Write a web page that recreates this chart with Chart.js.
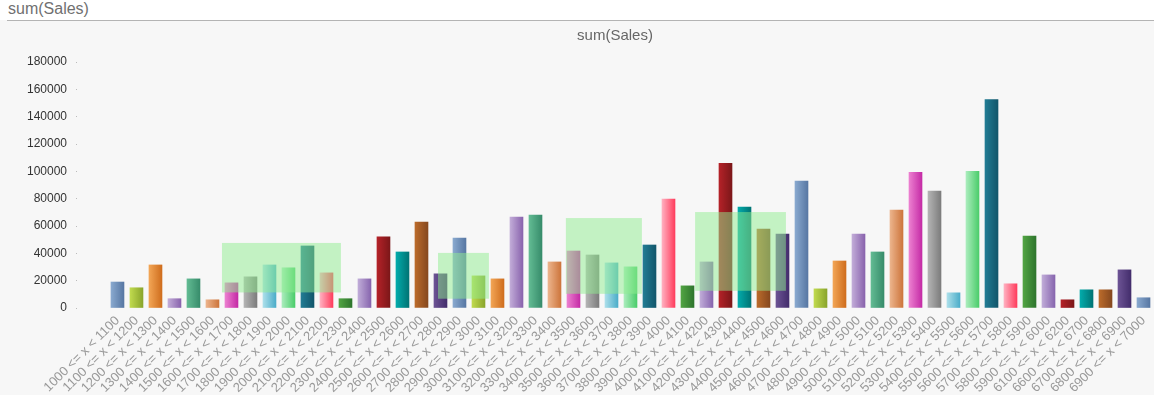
<!DOCTYPE html>
<html>
<head>
<meta charset="utf-8">
<script src="https://cdn.jsdelivr.net/npm/chart.js@4/dist/chart.umd.min.js"></script>
<style>
  html, body { margin: 0; padding: 0; background: #f7f7f7; }
  #header {
    position: absolute; left: 0; top: 0; width: 1154px; height: 20px;
    background: #ffffff;
  }
  #header span {
    position: absolute; left: 8px; top: 0px;
    font: 16px "Liberation Sans", Arial, sans-serif; color: #707070;
  }
  #header .line {
    position: absolute; left: 7px; right: 0; top: 20px; height: 1px; background: #b4b4b4;
  }
  #wrap { position: absolute; left: 0; top: 21px; width: 1154px; height: 374px; }
</style>
</head>
<body>
<div id="header"><span>sum(Sales)</span><div class="line"></div></div>
<div id="wrap"><canvas id="chart"></canvas></div>
<script>
// ranges on the x axis
const ranges = [
  '1000 <= x < 1100', '1100 <= x < 1200', '1200 <= x < 1300', '1300 <= x < 1400',
  '1400 <= x < 1500', '1500 <= x < 1600', '1600 <= x < 1700', '1700 <= x < 1800',
  '1800 <= x < 1900', '1900 <= x < 2000', '2000 <= x < 2100', '2100 <= x < 2200',
  '2200 <= x < 2300', '2300 <= x < 2400', '2400 <= x < 2500', '2500 <= x < 2600',
  '2600 <= x < 2700', '2700 <= x < 2800', '2800 <= x < 2900', '2900 <= x < 3000',
  '3000 <= x < 3100', '3100 <= x < 3200', '3200 <= x < 3300', '3300 <= x < 3400',
  '3400 <= x < 3500', '3500 <= x < 3600', '3600 <= x < 3700', '3700 <= x < 3800',
  '3800 <= x < 3900', '3900 <= x < 4000', '4000 <= x < 4100', '4100 <= x < 4200',
  '4200 <= x < 4300', '4300 <= x < 4400', '4400 <= x < 4500', '4500 <= x < 4600',
  '4600 <= x < 4700', '4700 <= x < 4800', '4800 <= x < 4900', '4900 <= x < 5000',
  '5000 <= x < 5100', '5100 <= x < 5200', '5200 <= x < 5300', '5300 <= x < 5400',
  '5400 <= x < 5500', '5500 <= x < 5600', '5600 <= x < 5700', '5700 <= x < 5800',
  '5800 <= x < 5900', '5900 <= x < 6000', '6100 <= x < 6200', '6600 <= x < 6700',
  '6700 <= x < 6800', '6800 <= x < 6900', '6900 <= x < 7000'
];

const sales = [
  19000, 14800, 31500, 6800, 21300, 6000, 18400, 22800, 31500, 29400,
  45400, 25700, 6800, 21300, 52000, 41000, 62900, 25000, 51200, 23500,
  21300, 66500, 68000, 33700, 41700, 38800, 33000, 30100, 46100, 79700,
  16200, 33700, 105900, 73800, 57800, 54100, 92800, 14000, 34400, 54100,
  41000, 71600, 99300, 85500, 11100, 100000, 152500, 17700, 52700, 24200,
  6000, 13300, 13300, 27900, 7500
];

const yTicks = [0, 20000, 40000, 60000, 80000, 100000, 120000, 140000, 160000, 180000];

// palette, light edge then dark edge of each bar
const palette = [
  ['#89a9cf', '#5777a3'], ['#c0da4e', '#8aa52c'], ['#f2a555', '#cf6d1d'],
  ['#c2acd8', '#8963ad'], ['#62bb93', '#378c6b'], ['#ecb48c', '#cd753c'],
  ['#ec80d0', '#c52ba6'], ['#b4b4b4', '#7c7c7c'], ['#acdfea', '#4cadc9'],
  ['#aaecbc', '#4bcd6b'], ['#227c94', '#12566b'], ['#ffb0c0', '#ff3d5d'],
  ['#52a443', '#2e752d'], ['#c0acd8', '#8765ae'], ['#b42228', '#7c1719'],
  ['#03abab', '#007474'], ['#bb6b2b', '#86481e'], ['#6c5394', '#432d6c']
];

// green highlight boxes, x in category positions, y in sales
const boxX0 = [5.5, 16.87, 23.6, 30.4];
const boxX1 = [11.76, 19.55, 27.6, 35.18];
const boxY0 = [11400, 6800, 10400, 12600];
const boxY1 = [47600, 40300, 65800, 70200];

const boxPlugin = {
  id: 'boxes',
  afterDatasetsDraw(chart) {
    const { ctx, scales: { x, y } } = chart;
    ctx.save();
    ctx.fillStyle = 'rgba(144, 238, 144, 0.5)';
    boxX0.forEach((x0, i) => {
      const left = x.getPixelForValue(x0);
      const right = x.getPixelForValue(boxX1[i]);
      const top = y.getPixelForValue(boxY1[i]);
      const bottom = y.getPixelForValue(boxY0[i]);
      ctx.fillRect(left, top, right - left, bottom - top);
    });
    ctx.restore();
  }
};

function barFill(c) {
  const pair = palette[c.dataIndex % palette.length];
  const xs = c.chart.scales.x;
  if (c.type !== 'data' || !xs) return pair[1];
  const px = xs.getPixelForValue(c.dataIndex);
  if (!Number.isFinite(px)) return pair[1];
  const g = c.chart.ctx.createLinearGradient(px - 6.5, 0, px + 6.5, 0);
  g.addColorStop(0, pair[0]);
  g.addColorStop(1, pair[1]);
  return g;
}

const ctx = document.getElementById('chart').getContext('2d');
new Chart(ctx, {
  type: 'bar',
  data: {
    datasets: [{
      label: 'sum(Sales)',
      data: sales.map((v, i) => ({ x: i, y: v })),
      backgroundColor: barFill,
      borderWidth: 0,
      barThickness: 13
    }]
  },
  options: {
    responsive: true,
    maintainAspectRatio: false,
    animation: false,
    layout: { padding: { left: 0, right: 1, top: 0, bottom: 0 } },
    scales: {
      x: {
        type: 'linear',
        offset: false,
        min: -2.13,
        max: 54.5,
        afterBuildTicks: (s) => { s.ticks = ranges.map((_, i) => ({ value: i })); },
        afterFit: (s) => { s.height = 87; s.paddingLeft = 0; s.paddingRight = 0; },
        grid: { display: false },
        border: { display: false },
        ticks: {
          autoSkip: false,
          minRotation: 45,
          maxRotation: 45,
          padding: -3,
          color: '#999999',
          font: { family: '"Liberation Sans", Arial, sans-serif', size: 13 },
          callback: (v) => ranges[v] ?? ''
        }
      },
      y: {
        min: 0,
        max: 180000,
        afterBuildTicks: (s) => { s.ticks = yTicks.map(v => ({ value: v })); },
        afterFit: (s) => { s.width = 77; s.paddingTop = 0; s.paddingBottom = 0; },
        grid: { drawOnChartArea: false, tickLength: 1, color: '#bbbbbb' },
        border: { display: false },
        ticks: {
          padding: 9,
          color: '#333333',
          font: { family: '"Liberation Sans", Arial, sans-serif', size: 12 },
          callback: (v) => String(v)
        }
      }
    },
    plugins: {
      legend: { display: false },
      tooltip: { enabled: false },
      title: {
        display: true,
        text: 'sum(Sales)',
        fullSize: false,
        color: '#666666',
        font: { family: '"Liberation Sans", Arial, sans-serif', size: 15, weight: 'normal' },
        padding: { top: 6, bottom: 17 }
      }
    }
  },
  plugins: [boxPlugin]
});
</script>
</body>
</html>
